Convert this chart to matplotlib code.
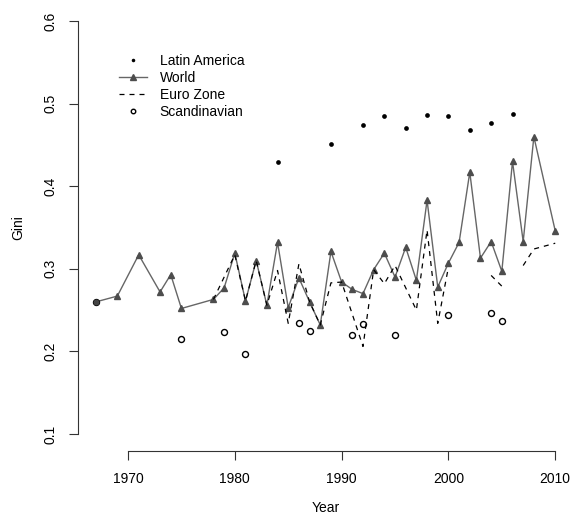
import numpy as np
import matplotlib
matplotlib.use("Agg")
import matplotlib.pyplot as plt

plt.rcParams['font.family'] = ['Liberation Sans', 'DejaVu Sans']
plt.rcParams['font.size'] = 10

# Gini coefficients by region
latam_years = [1984, 1989, 1992, 1994, 1996, 1998, 2000, 2002, 2004, 2006]
latam_gini = [0.429, 0.451, 0.474, 0.485, 0.470, 0.486, 0.485, 0.468, 0.476, 0.487]

world_years = [1967, 1969, 1971, 1973, 1974, 1975, 1978, 1979, 1980, 1981, 1982,
               1983, 1984, 1985, 1986, 1987, 1988, 1989, 1990, 1991, 1992, 1993,
               1994, 1995, 1996, 1997, 1998, 1999, 2000, 2001, 2002, 2003, 2004,
               2005, 2006, 2007, 2008, 2010]
world_gini = [0.260, 0.267, 0.317, 0.272, 0.293, 0.252, 0.263, 0.277, 0.319, 0.261,
              0.310, 0.256, 0.332, 0.253, 0.289, 0.260, 0.232, 0.321, 0.284, 0.275,
              0.270, 0.299, 0.319, 0.290, 0.326, 0.286, 0.383, 0.278, 0.307, 0.332,
              0.417, 0.313, 0.333, 0.297, 0.430, 0.333, 0.460, 0.346]

euro_years = [1978, 1979, 1980, 1981, 1982, 1983, 1984, 1985, 1986, 1987, 1988,
              1989, 1990, 1992, 1993, 1994, 1995, 1997, 1998, 1999, 2000, 2002,
              2004, 2005, 2006, 2007, 2008, 2010]
euro_gini = [0.263, 0.290, 0.317, 0.261, 0.310, 0.256, 0.298, 0.234, 0.306, 0.260,
             0.232, 0.283, 0.284, 0.206, 0.299, 0.282, 0.304, 0.250, 0.347, 0.234,
             0.302, np.nan, 0.292, 0.279, np.nan, 0.304, 0.324, 0.331]

scan_years = [1967, 1975, 1979, 1981, 1986, 1987, 1991, 1992, 1995, 2000, 2004, 2005]
scan_gini = [0.260, 0.215, 0.224, 0.197, 0.234, 0.225, 0.220, 0.233, 0.220, 0.2445,
             0.247, 0.237]

fig = plt.figure(figsize=(5.74, 5.16), dpi=100)
ax = fig.add_axes([0.1352, 0.1269, 0.8641, 0.8643])

ax.plot(latam_years, latam_gini, 'o', color='black', ms=3.4, mew=0,
        label='Latin America')
ax.plot(world_years, world_gini, '-', color='#666666', lw=1.0, marker='^',
        ms=5, mfc='#4d4d4d', mec='#4d4d4d', markevery=list(range(1, len(world_years))),
        label='World')
ax.plot(euro_years, euro_gini, color='black', lw=0.9, dashes=(4, 4),
        label='Euro Zone')
ax.plot(scan_years, scan_gini, 'o', mfc='none', mec='black', ms=4.3, mew=1.0,
        label='Scandinavian')
# first World observation is drawn as a filled dot
ax.plot(world_years[0], world_gini[0], 'o', color='#444444', ms=4.3, mew=0)

ax.set_xlim(1965.28, 2011.72)
ax.set_ylim(0.08, 0.62)
ax.set_xticks([1970, 1980, 1990, 2000, 2010])
ax.set_yticks([0.1, 0.2, 0.3, 0.4, 0.5, 0.6])
ax.set_yticklabels(['0.1', '0.2', '0.3', '0.4', '0.5', '0.6'], rotation=90,
                   va='center')
for s in ['top', 'right']:
    ax.spines[s].set_visible(False)
ax.spines['left'].set_bounds(0.1, 0.6)
ax.spines['bottom'].set_bounds(1970, 2010)
ax.spines['left'].set_color('#333333')
ax.spines['bottom'].set_color('#333333')
ax.tick_params(direction='out', length=6.5, width=0.8, color='#333333')
ax.tick_params(axis='x', pad=9)
ax.tick_params(axis='y', pad=8)

ax.set_xlabel('Year', labelpad=11)
ax.set_ylabel('Gini', labelpad=13)

ax.legend(loc='upper left', bbox_to_anchor=(0.07, 0.904), frameon=False,
          handlelength=2.0, handletextpad=0.9, labelspacing=0.2, borderpad=0,
          markerscale=0.75)

fig.savefig('out.png', dpi=100)
